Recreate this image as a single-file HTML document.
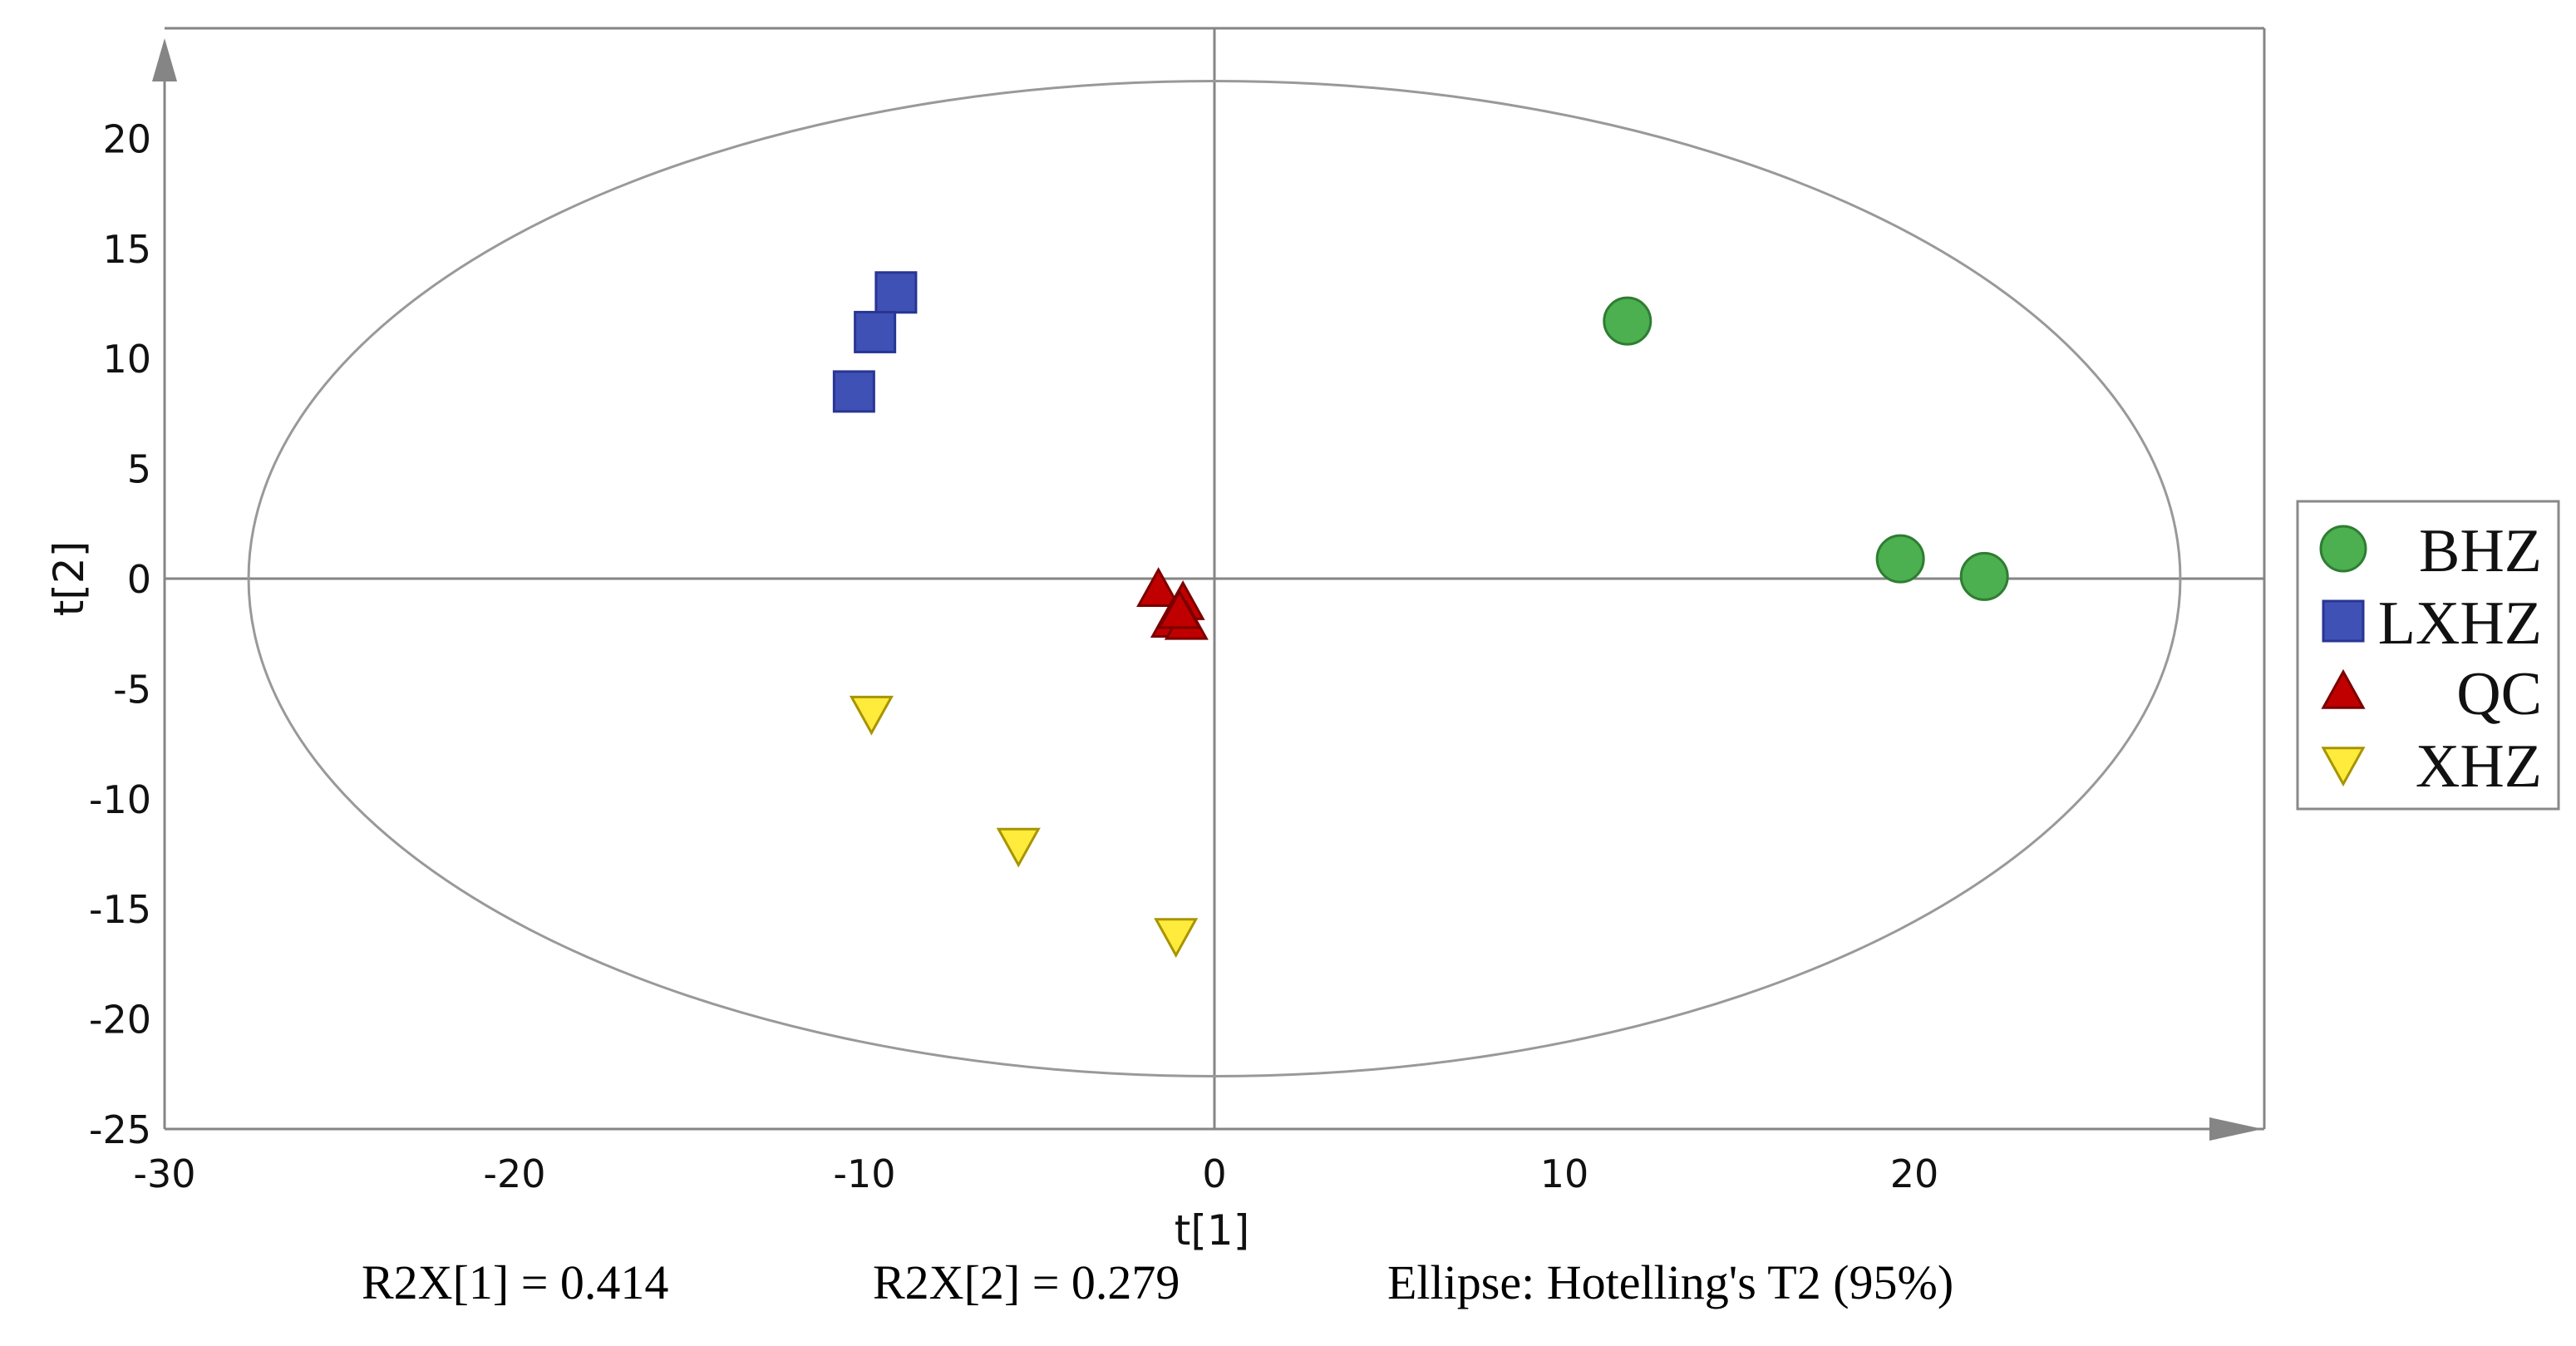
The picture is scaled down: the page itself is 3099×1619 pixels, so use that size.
<!DOCTYPE html>
<html><head><meta charset="utf-8">
<style>
html,body{margin:0;padding:0;background:#fff;}
svg{display:block;}
</style></head>
<body>
<svg id="chart" width="3099" height="1619" viewBox="0 0 3099 1619" xmlns="http://www.w3.org/2000/svg">
  <g id="frame"></g>
  <g id="marks"></g>
  <g id="legend">
    <rect x="2764" y="603" width="314" height="370" fill="#fff" stroke="#888" stroke-width="3"/>
  </g>
  <text x="435" y="1562" font-family="Liberation Serif, serif" font-size="58">R2X[1] = 0.414</text>
  <text x="1050" y="1562" font-family="Liberation Serif, serif" font-size="58">R2X[2] = 0.279</text>
  <text x="1669" y="1562" font-family="Liberation Serif, serif" font-size="58">Ellipse: Hotelling's T2 (95%)</text>
</svg>
<script>
const xTicks=[-30,-20,-10,0,10,20];
const yTicks=[20,15,10,5,0,-5,-10,-15,-20,-25];
const bhzX=[11.8,19.6,22.0];
const bhzY=[11.7,0.9,0.1];
const lxhzX=[-9.1,-9.7,-10.3];
const lxhzY=[13.0,11.2,8.5];
const qcX=[-1.6,-0.9,-1.2,-0.8,-1.0];
const qcY=[-0.5,-1.1,-1.9,-2.0,-1.5];
const xhzX=[-9.8,-5.6,-1.1];
const xhzY=[-6.1,-12.1,-16.2];
const ellipseRx=27.6, ellipseRy=22.6;
const legendLabels=['BHZ','LXHZ','QC','XHZ'];

const NS='http://www.w3.org/2000/svg';
const L=198,R=2724,T=34,B=1358;
const xMin=-30,xMax=30,yMin=-25,yMax=25;
const sx=v=>L+(v-xMin)/(xMax-xMin)*(R-L);
const sy=v=>B-(v-yMin)/(yMax-yMin)*(B-T);
function el(tag,attrs,parent){const e=document.createElementNS(NS,tag);for(const k in attrs)e.setAttribute(k,attrs[k]);parent.appendChild(e);return e;}
const frame=document.getElementById('frame');
const marks=document.getElementById('marks');
const legend=document.getElementById('legend');
const G='#858585';

let e;
e=el('line',{x1:L,y1:T,x2:R,y2:T,stroke:G,'stroke-width':3},frame);


e=el('line',{x1:R,y1:T,x2:R,y2:B,stroke:G,'stroke-width':3},frame);


e=el('line',{x1:L,y1:B,x2:R,y2:B,stroke:G,'stroke-width':3},frame);


e=el('line',{x1:L,y1:T+20,x2:L,y2:B,stroke:G,'stroke-width':3},frame);


e=el('polygon',{points:`${L},${T+12} ${L-15},${T+64} ${L+15},${T+64}`,fill:G},frame);


e=el('polygon',{points:`${R-2},${B} ${R-66},${B-14} ${R-66},${B+14}`,fill:G},frame);


e=el('line',{x1:sx(0),y1:T,x2:sx(0),y2:B,stroke:G,'stroke-width':3},frame);


e=el('line',{x1:L,y1:sy(0),x2:R,y2:sy(0),stroke:G,'stroke-width':3},frame);


e=el('ellipse',{cx:sx(0),cy:sy(0),rx:sx(ellipseRx)-sx(0),ry:sy(0)-sy(ellipseRy),fill:'none',stroke:'#999','stroke-width':3},frame);



xTicks.forEach(v=>{
  const t=el('text',{x:sx(v),y:1428,'text-anchor':'middle','font-family':'DejaVu Sans, sans-serif','font-size':46,fill:'#111'},frame);
  t.textContent=v;
  
  
});
yTicks.forEach(v=>{
  const t=el('text',{x:182,y:sy(v)+17,'text-anchor':'end','font-family':'DejaVu Sans, sans-serif','font-size':46,fill:'#111'},frame);
  t.textContent=v;
  
  
});
e=el('text',{x:1458,y:1497,'text-anchor':'middle','font-family':'DejaVu Sans, sans-serif','font-size':50,fill:'#111'},frame);
e.textContent='t[1]';


e=el('text',{x:0,y:0,'text-anchor':'middle','font-family':'DejaVu Sans, sans-serif','font-size':50,fill:'#111',transform:'translate(100,696) rotate(-90)'},frame);
e.textContent='t[2]';



function circle(x,y,p,r){return el('circle',{cx:x,cy:y,r:r,fill:'#4caf50',stroke:'#2e7d32','stroke-width':3},p);}
function square(x,y,p,s){return el('rect',{x:x-s/2,y:y-s/2,width:s,height:s,fill:'#3f51b5',stroke:'#283593','stroke-width':3},p);}
function up(x,y,p,s){return el('polygon',{points:`${x},${y-s*0.5} ${x-s/2},${y+s*0.4} ${x+s/2},${y+s*0.4}`,fill:'#c00000',stroke:'#7a0000','stroke-width':3},p);}
function down(x,y,p,s){return el('polygon',{points:`${x},${y+s*0.5} ${x-s/2},${y-s*0.4} ${x+s/2},${y-s*0.4}`,fill:'#ffeb3b',stroke:'#a89400','stroke-width':3},p);}

bhzX.forEach((v,i)=>{const m=circle(sx(v),sy(bhzY[i]),marks,28);
  
  });
lxhzX.forEach((v,i)=>{const m=square(sx(v),sy(lxhzY[i]),marks,48);
  
  });
qcX.forEach((v,i)=>{const m=up(sx(v),sy(qcY[i]),marks,48);
  
  });
xhzX.forEach((v,i)=>{const m=down(sx(v),sy(xhzY[i]),marks,48);
  
  });

const legY=[660,747,832,919];
const legFns=[(y)=>circle(2819,y,legend,27),(y)=>square(2819,y,legend,48),(y)=>up(2819,y,legend,48),(y)=>down(2819,y,legend,48)];
legendLabels.forEach((lab,i)=>{
  const m=legFns[i](legY[i]);
  
  
  const t=el('text',{x:3058,y:legY[i]+27,'text-anchor':'end','font-family':'Liberation Serif, serif','font-size':74,fill:'#111'},legend);
  t.textContent=lab;
  
  
});
</script>
</body></html>
